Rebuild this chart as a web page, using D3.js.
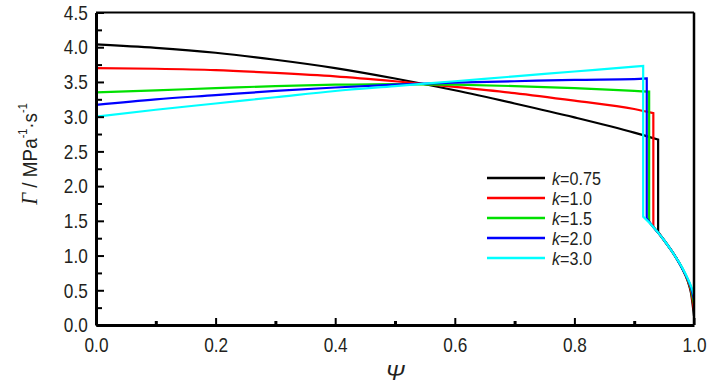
<!DOCTYPE html>
<html><head><meta charset="utf-8">
<script src="https://cdn.jsdelivr.net/npm/d3@7"></script>
<style>
html,body{margin:0;padding:0;background:#fff;}
svg{display:block;}
text{font-family:"Liberation Sans Narrow","Arial Narrow","Liberation Sans",Arial,sans-serif;fill:#231f20;}
</style></head><body>
<svg id="chart" width="726" height="390"></svg>
<script>
// Data
const seriesNames = ["k=0.75","k=1.0","k=1.5","k=2.0","k=3.0"];
const seriesColors = ["#000000","#ff0000","#00e000","#0000ff","#00ffff"];
// upper branch (before the vertical drop)
const psiUpK075 = [0,0.1,0.2,0.3,0.4,0.5,0.6,0.7,0.8,0.9,0.94];
const gamUpK075 = [4.04,3.99,3.92,3.82,3.70,3.55,3.38,3.19,2.99,2.77,2.67];
const psiUpK10 = [0,0.1,0.2,0.3,0.4,0.5,0.6,0.7,0.8,0.9,0.932];
const gamUpK10 = [3.70,3.69,3.67,3.63,3.58,3.51,3.43,3.34,3.23,3.11,3.05];
const psiUpK15 = [0,0.1,0.2,0.3,0.4,0.5,0.6,0.7,0.8,0.9,0.925];
const gamUpK15 = [3.35,3.38,3.41,3.44,3.46,3.47,3.46,3.44,3.41,3.37,3.36];
const psiUpK20 = [0,0.1,0.2,0.3,0.4,0.5,0.6,0.7,0.8,0.9,0.921];
const gamUpK20 = [3.17,3.25,3.31,3.37,3.42,3.46,3.49,3.51,3.53,3.54,3.55];
const psiUpK30 = [0,0.1,0.2,0.3,0.4,0.5,0.6,0.7,0.8,0.9,0.915];
const gamUpK30 = [3.00,3.10,3.19,3.28,3.37,3.44,3.51,3.58,3.65,3.72,3.73];
// lower branch (after the drop)
const psiLoK075 = [0.94,0.95,0.96,0.97,0.98,0.99,0.995,1.0];
const gamLoK075 = [1.34,1.22,1.10,0.97,0.82,0.62,0.46,0.13];
const psiLoK10 = [0.932,0.94,0.95,0.96,0.97,0.98,0.99,0.995,1.0];
const gamLoK10 = [1.42,1.33,1.22,1.10,0.97,0.82,0.63,0.49,0.21];
const psiLoK15 = [0.925,0.93,0.94,0.95,0.96,0.97,0.98,0.99,0.995,1.0];
const gamLoK15 = [1.49,1.43,1.33,1.22,1.10,0.97,0.82,0.64,0.52,0.30];
const psiLoK20 = [0.921,0.93,0.94,0.95,0.96,0.97,0.98,0.99,0.995,1.0];
const gamLoK20 = [1.54,1.43,1.33,1.22,1.10,0.97,0.82,0.65,0.54,0.37];
const psiLoK30 = [0.915,0.93,0.94,0.95,0.96,0.97,0.98,0.99,0.995,1.0];
const gamLoK30 = [1.56,1.43,1.33,1.22,1.10,0.97,0.83,0.66,0.56,0.43];
const xTicks = [0,0.2,0.4,0.6,0.8,1.0];
const yTicks = [0,0.5,1,1.5,2,2.5,3,3.5,4,4.5];

const psiUp = [psiUpK075,psiUpK10,psiUpK15,psiUpK20,psiUpK30];
const gamUp = [gamUpK075,gamUpK10,gamUpK15,gamUpK20,gamUpK30];
const psiLo = [psiLoK075,psiLoK10,psiLoK15,psiLoK20,psiLoK30];
const gamLo = [gamLoK075,gamLoK10,gamLoK15,gamLoK20,gamLoK30];

const svg = d3.select("#chart");
const L = 96, R = 694, T = 12.5, B = 325;
const NX = 0.82; // horizontal squeeze to mimic a narrow face
const x = d3.scaleLinear().domain([0,1]).range([L,R]);
const y = d3.scaleLinear().domain([0,4.5]).range([B,T]);

// lines
const line = d3.line().x(d=>x(d[0])).y(d=>y(d[1])).curve(d3.curveMonotoneX);
const g = svg.append("g");
psiUp.forEach((ps,i)=>{
  const up = ps.map((p,j)=>[p,gamUp[i][j]]);
  const lo = psiLo[i].map((p,j)=>[p,gamLo[i][j]]);
  const d = line(up) + "L" + line(lo).slice(1);
  g.append("path").attr("d",d).attr("fill","none")
    .attr("stroke",seriesColors[i]).attr("stroke-width",2.2).attr("stroke-linejoin","miter");
});

// frame top & right
svg.append("line").attr("x1",L).attr("x2",R).attr("y1",T).attr("y2",T).attr("stroke","#000").attr("stroke-width",2);
svg.append("line").attr("x1",R).attr("x2",R).attr("y1",T).attr("y2",B).attr("stroke","#000").attr("stroke-width",2.5);

// axes
const xAxis = d3.axisBottom(x).tickValues(xTicks).tickFormat(d3.format(".1f")).tickSizeInner(-7).tickSizeOuter(0).tickPadding(12);
const gx = svg.append("g").attr("transform",`translate(0,${B})`).call(xAxis);
gx.select(".domain").attr("stroke","#000").attr("stroke-width",3);
gx.selectAll(".tick line").attr("stroke","#000").attr("stroke-width",2);
gx.selectAll(".tick text").attr("font-size",21).attr("fill","#231f20").attr("transform",`scale(${NX},1)`);
const xMinor = d3.axisBottom(x).tickValues([0.1,0.3,0.5,0.7,0.9]).tickFormat("").tickSizeInner(-4).tickSizeOuter(0);
const gxm = svg.append("g").attr("transform",`translate(0,${B})`).call(xMinor);
gxm.select(".domain").remove();
gxm.selectAll(".tick line").attr("stroke","#000").attr("stroke-width",3);

const yAxis = d3.axisLeft(y).tickValues(yTicks).tickFormat(d3.format(".1f")).tickSizeInner(-8).tickSizeOuter(0).tickPadding(10);
const gy = svg.append("g").attr("transform",`translate(${L},0)`).call(yAxis);
gy.select(".domain").attr("stroke","#000").attr("stroke-width",3);
gy.selectAll(".tick line").attr("stroke","#000").attr("stroke-width",2);
gy.selectAll(".tick text").attr("font-size",21).attr("fill","#231f20").attr("transform",`scale(${NX},1)`);
const yMinor = d3.axisLeft(y).tickValues([0.25,0.75,1.25,1.75,2.25,2.75,3.25,3.75,4.25]).tickFormat("").tickSizeInner(-6).tickSizeOuter(0);
const gym = svg.append("g").attr("transform",`translate(${L},0)`).call(yMinor);
gym.select(".domain").remove();
gym.selectAll(".tick line").attr("stroke","#000").attr("stroke-width",2);

// axis titles
svg.append("text").attr("x",x(0.5)).attr("y",380).attr("text-anchor","middle")
  .attr("font-family","'Liberation Serif','Times New Roman',serif").attr("font-style","italic").attr("font-size",23).text("Ψ");
const yl = svg.append("text").attr("transform",`translate(37,154) rotate(-90) scale(0.9,1)`).attr("text-anchor","middle").attr("font-size",21);
yl.append("tspan").attr("font-family","'Liberation Serif','Times New Roman',serif").attr("font-style","italic").attr("font-size",23).text("Γ");
yl.append("tspan").text(" / MPa");
yl.append("tspan").attr("font-size",12).attr("dy",-10).text("-1");
yl.append("tspan").attr("dy",10).text("·s");
yl.append("tspan").attr("font-size",12).attr("dy",-10).text("-1");

// legend
const legY0 = 178, legDy = 20;
seriesNames.forEach((n,i)=>{
  const yy = legY0 + i*legDy;
  svg.append("line").attr("x1",487).attr("x2",545).attr("y1",yy).attr("y2",yy)
    .attr("stroke",seriesColors[i]).attr("stroke-width",2.5);
  const t = svg.append("text").attr("transform",`translate(552,${yy+7}) scale(0.85,1)`).attr("font-size",19);
  t.append("tspan").attr("font-style","italic").text("k");
  t.append("tspan").text(n.slice(1));
});
</script>
</body></html>
